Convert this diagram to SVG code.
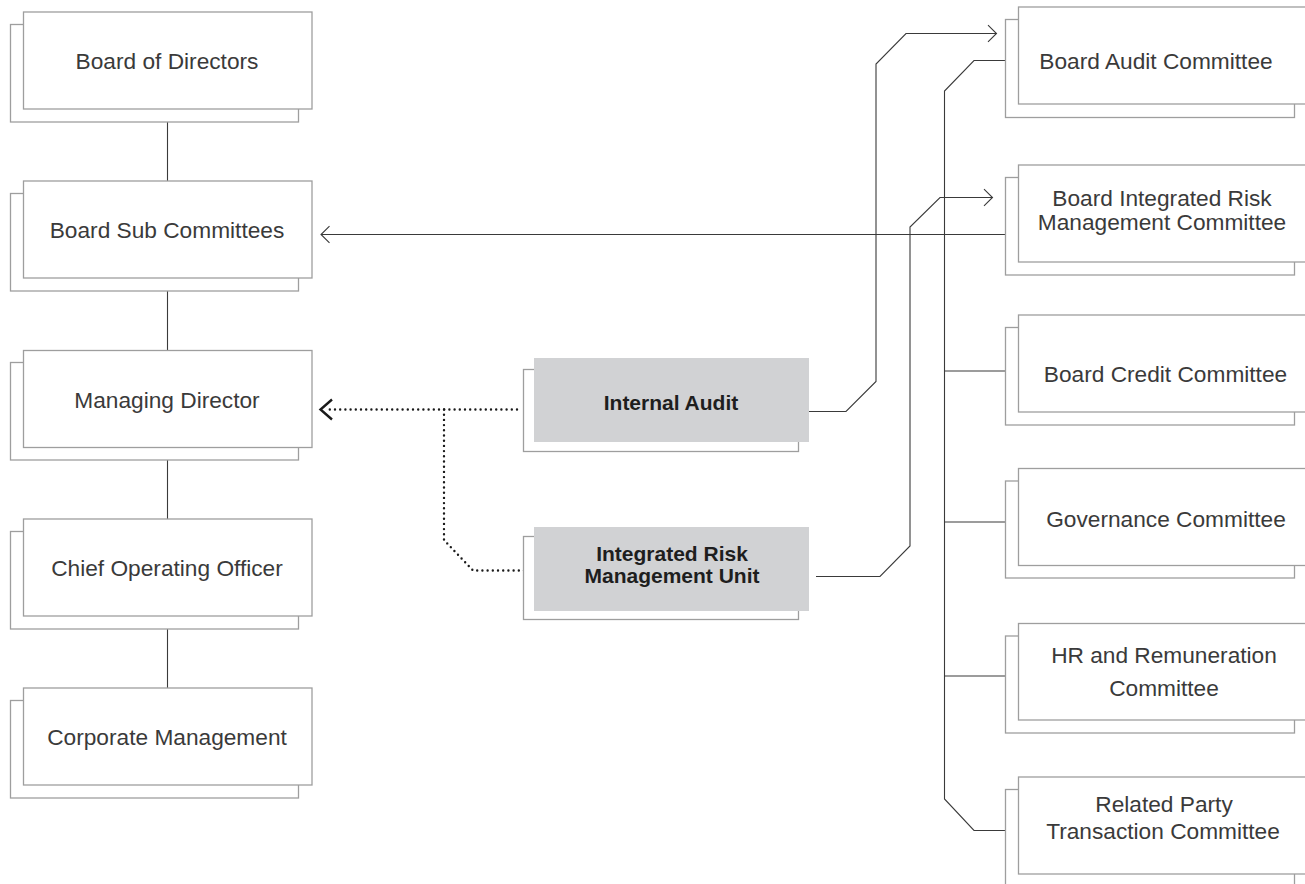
<svg xmlns="http://www.w3.org/2000/svg" width="1305" height="884" viewBox="0 0 1305 884">
<style>
.bk{fill:#fff;stroke:#9e9e9e;stroke-width:1.3}
.fr{fill:#fff;stroke:#9e9e9e;stroke-width:1.3}
.gf{fill:#d1d2d4}
.t{font-family:"Liberation Sans",Arial,Helvetica,sans-serif;font-size:22.7px;fill:#3a3a3a;text-anchor:middle}
.tb{font-family:"Liberation Sans",Arial,Helvetica,sans-serif;font-size:21px;font-weight:bold;fill:#1e1e1e;text-anchor:middle}
.ln{fill:none;stroke:#3a3a3a;stroke-width:1.1}
.dt{fill:none;stroke:#1a1a1a;stroke-width:2.4;stroke-dasharray:0 5.2;stroke-linecap:round}
</style>
<defs>
<marker id="arr" viewBox="-10 -10 12 20" refX="0" refY="0" markerWidth="12" markerHeight="20" markerUnits="userSpaceOnUse" orient="auto">
<path d="M-8.5,-8.3 L0,0 L-8.5,8.3" fill="none" stroke="#3a3a3a" stroke-width="1.1"/>
</marker>
</defs>

<g id="connectors">
<path class="ln" d="M167.5,122 V181 M167.5,291 V350 M167.5,460 V519 M167.5,629 V688"/>
<path class="ln" d="M1005,60.5 H974 L944.5,91 V799 L974,830.5 H1005"/>
<path class="ln" d="M944.5,371 H1005 M944.5,522 H1005 M944.5,676 H1005"/>
<path class="ln" d="M1005,234.5 H321" marker-end="url(#arr)"/>
<path class="ln" d="M809,411.5 H846 L876,381.5 V64 L906,33.5 H996.5" marker-end="url(#arr)"/>
<path class="ln" d="M816,576.5 H880 L910,546 V227 L940,197.5 H992.5" marker-end="url(#arr)"/>
<path class="dt" d="M517,409.5 H325"/>
<path d="M332,399.5 L320.5,409.5 L332,419.5" fill="none" stroke="#1a1a1a" stroke-width="2.4"/>
<path class="dt" d="M444,409.5 V540 L473,570.5 H528"/>
</g>

<g id="board-of-directors">
<rect class="bk" x="10.5" y="24.5" width="288" height="97.5"/>
<rect class="fr" x="23.5" y="12" width="288.5" height="97"/>
<text class="t" x="167" y="69.3">Board of Directors</text>
</g>
<g id="board-sub-committees">
<rect class="bk" x="10.5" y="193.5" width="288" height="97.5"/>
<rect class="fr" x="23.5" y="181" width="288.5" height="97"/>
<text class="t" x="167" y="238">Board Sub Committees</text>
</g>
<g id="managing-director">
<rect class="bk" x="10.5" y="362.5" width="288" height="97.5"/>
<rect class="fr" x="23.5" y="350.5" width="288.5" height="97"/>
<text class="t" x="167" y="407.5">Managing Director</text>
</g>
<g id="chief-operating-officer">
<rect class="bk" x="10.5" y="531.5" width="288" height="97.5"/>
<rect class="fr" x="23.5" y="519" width="288.5" height="97"/>
<text class="t" x="167" y="576.3">Chief Operating Officer</text>
</g>
<g id="corporate-management">
<rect class="bk" x="10.5" y="700.5" width="288" height="97.5"/>
<rect class="fr" x="23.5" y="688" width="288.5" height="97"/>
<text class="t" x="167" y="745.3">Corporate Management</text>
</g>

<g id="internal-audit">
<rect class="bk" x="523.5" y="369.5" width="275" height="82"/>
<rect class="gf" x="534" y="358" width="275" height="84"/>
<text class="tb" x="671" y="410">Internal Audit</text>
</g>
<g id="integrated-risk-management-unit">
<rect class="bk" x="523.5" y="536.5" width="275" height="83"/>
<rect class="gf" x="534" y="527" width="275" height="84"/>
<text class="tb" x="672" y="561">Integrated Risk</text>
<text class="tb" x="672" y="582.5">Management Unit</text>
</g>

<g id="board-audit-committee">
<rect class="bk" x="1005.5" y="19.5" width="289" height="98"/>
<rect class="fr" x="1018.5" y="7" width="300" height="97"/>
<text class="t" x="1156" y="69.3">Board Audit Committee</text>
</g>
<g id="board-integrated-risk-management-committee">
<rect class="bk" x="1005.5" y="177.5" width="289" height="97.5"/>
<rect class="fr" x="1018.5" y="165" width="300" height="97"/>
<text class="t" x="1162" y="205.7">Board Integrated Risk</text>
<text class="t" x="1162" y="229.5">Management Committee</text>
</g>
<g id="board-credit-committee">
<rect class="bk" x="1005.5" y="327.5" width="289" height="97.5"/>
<rect class="fr" x="1018.5" y="315" width="300" height="97"/>
<text class="t" x="1165.5" y="381.7">Board Credit Committee</text>
</g>
<g id="governance-committee">
<rect class="bk" x="1005.5" y="481" width="289" height="97"/>
<rect class="fr" x="1018.5" y="468.5" width="300" height="97"/>
<text class="t" x="1166" y="526.7">Governance Committee</text>
</g>
<g id="hr-and-remuneration-committee">
<rect class="bk" x="1005.5" y="636" width="289" height="97"/>
<rect class="fr" x="1018.5" y="623.5" width="300" height="96.5"/>
<text class="t" x="1164" y="663.3">HR and Remuneration</text>
<text class="t" x="1164" y="696">Committee</text>
</g>
<g id="related-party-transaction-committee">
<rect class="bk" x="1005.5" y="789.5" width="289" height="98"/>
<rect class="fr" x="1018.5" y="777" width="300" height="97"/>
<text class="t" x="1164" y="811.7">Related Party</text>
<text class="t" x="1163" y="839">Transaction Committee</text>
</g>
</svg>
